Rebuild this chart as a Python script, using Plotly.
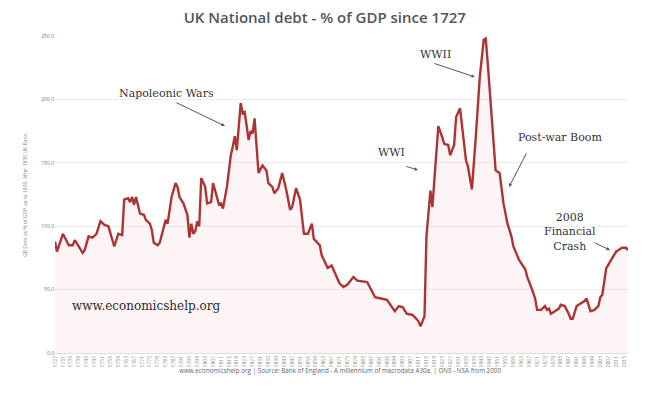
import plotly.graph_objects as go

# Data (year, UK national debt as % of GDP)
years = [1727, 1728, 1731, 1734, 1736, 1737, 1739, 1741, 1742, 1744, 1746, 1748, 1750, 1752,
         1754, 1755, 1757, 1759, 1761, 1762, 1764, 1765, 1766, 1767, 1768, 1770, 1772, 1773,
         1775, 1776, 1777, 1779, 1780, 1783, 1784, 1786, 1788, 1789, 1790, 1792, 1794, 1795,
         1796, 1797, 1798, 1799, 1800, 1801, 1803, 1804, 1806, 1807, 1809, 1810, 1811, 1812,
         1814, 1816, 1817, 1818, 1819, 1821, 1822, 1823, 1825, 1826, 1827, 1828, 1830, 1832,
         1834, 1835, 1837, 1838, 1840, 1842, 1844, 1846, 1847, 1849, 1851, 1853, 1855, 1857,
         1858, 1861, 1862, 1865, 1867, 1869, 1871, 1873, 1875, 1878, 1880, 1885, 1889, 1892,
         1895, 1899, 1901, 1903, 1905, 1908, 1911, 1912, 1914, 1915, 1917, 1918, 1921, 1923,
         1924, 1926, 1927, 1929, 1930, 1932, 1933, 1935, 1936, 1938, 1940, 1942, 1944, 1945,
         1946, 1948, 1950, 1952, 1954, 1956, 1958, 1959, 1962, 1965, 1966, 1968, 1970, 1971,
         1973, 1975, 1976, 1977, 1978, 1980, 1982, 1983, 1985, 1987, 1988, 1989, 1991, 1993,
         1995, 1996, 1998, 2000, 2002, 2003, 2004, 2006, 2009, 2011, 2014, 2016, 2017]
debt_pct = [88, 80, 94, 85, 85, 89, 84, 79, 81, 92, 91, 94, 104, 101,
            100, 94, 84, 94, 93, 121, 122, 119, 123, 117, 123, 110, 109, 105,
            102, 97, 87, 85, 87, 105, 102, 123, 134, 131, 123, 118, 109, 91,
            102, 94, 96, 104, 100, 138, 131, 118, 119, 134, 122, 117, 118, 114,
            131, 156, 163, 171, 160, 197, 189, 190, 168, 175, 173, 185, 142, 148,
            144, 134, 131, 126, 130, 142, 129, 113, 115, 130, 121, 94, 94, 102,
            90, 85, 77, 67, 69, 62, 55, 52, 54, 60, 57, 56, 44, 43,
            42, 33, 37, 36, 31, 30, 25, 21, 29, 92, 128, 115, 179, 170,
            165, 164, 156, 164, 186, 193, 179, 152, 147, 129, 171, 218, 247, 248,
            229, 189, 144, 142, 118, 102, 92, 84, 73, 66, 60, 52, 43, 34,
            34, 37, 34, 35, 31, 33, 35, 38, 37, 31, 27, 27, 37, 39,
            41, 43, 33, 34, 37, 44, 46, 67, 75, 80, 83, 83, 81]

y_ticks = [0, 50, 100, 150, 200, 250]
x_ticks = list(range(1727, 2018, 4))

title_text = "UK National debt - % of GDP since 1727"
y_title = "GB Debt as % of GDP up to 1830. After 1830 UK Basis."
source_text = ("www.economicshelp.org | Source: Bank of England - A millennium of macrodata A30a, "
               "| ONS - NSA from 2000")

line_color = "#ad3434"
serif = "DejaVu Serif, Georgia, serif"

fig = go.Figure()
fig.add_trace(go.Scatter(
    x=years, y=debt_pct, mode="lines",
    line=dict(color=line_color, width=2.4),
    fill="tozeroy", fillcolor="rgba(225,120,120,0.07)",
    hoverinfo="skip", showlegend=False,
))

# Text labels
labels = [
    ("Napoleonic Wars", 1783.2, 205),
    ("WWI", 1897.5, 158.5),
    ("WWII", 1919.8, 235.8),
    ("Post-war Boom", 1982.6, 170.3),
    ("2008<br>Financial<br>Crash", 1987.6, 95.4),
]
for txt, lx, ly in labels:
    fig.add_annotation(x=lx, y=ly, text=txt, showarrow=False,
                       font=dict(family=serif, size=11, color="#333333"))

# Arrows (tail -> head)
arrows = [
    (1787.7, 198, 1813, 179),
    (1904.1, 147.5, 1910.7, 144.3),
    (1918.3, 228.7, 1939.5, 217.7),
    (1965.9, 158.5, 1956.8, 130.9),
    (1999.3, 87.5, 2007.9, 81.2),
]
for tx, ty, hx, hy in arrows:
    fig.add_annotation(x=hx, y=hy, ax=tx, ay=ty, xref="x", yref="y", axref="x", ayref="y",
                       text="", showarrow=True, arrowhead=2, arrowsize=0.7,
                       arrowwidth=1, arrowcolor="#555555")

fig.add_annotation(x=0.026, y=0.12, xref="paper", yref="paper", xanchor="left",
                   text="www.economicshelp.org", showarrow=False,
                   font=dict(family=serif, size=12, color="#2a2a2a"))

fig.add_annotation(x=0.497, y=-0.076, xref="paper", yref="paper",
                   text=source_text, showarrow=False,
                   font=dict(family="Open Sans, sans-serif", size=6.3, color="#666666"))

# The page body has an 8px default margin, so the figure is sized to fit the window.
fig.update_layout(
    width=640, height=385,
    margin=dict(l=47, r=20, t=28, b=40),
    paper_bgcolor="white", plot_bgcolor="white",
    title=dict(text=title_text, x=0.495, xref="container", y=0.974, yref="container",
               xanchor="center", yanchor="middle",
               font=dict(family="Open Sans, sans-serif", size=15, weight=600,
                         color="#555555")),
    xaxis=dict(range=[1727, 2017], tickvals=x_ticks, ticktext=[str(v) for v in x_ticks],
               tickangle=-90, tickfont=dict(size=5, color="#888888"),
               showgrid=False, showline=True, linecolor="#dddddd", zeroline=False,
               ticks=""),
    yaxis=dict(range=[0, 250], tickvals=y_ticks, tickformat=".1f",
               tickfont=dict(size=5, color="#777777"),
               showgrid=True, gridcolor="#ececec", gridwidth=1, zeroline=False,
               title=dict(text=y_title, font=dict(size=5, color="#888888"), standoff=13)),
)

fig.write_html("out.html")
